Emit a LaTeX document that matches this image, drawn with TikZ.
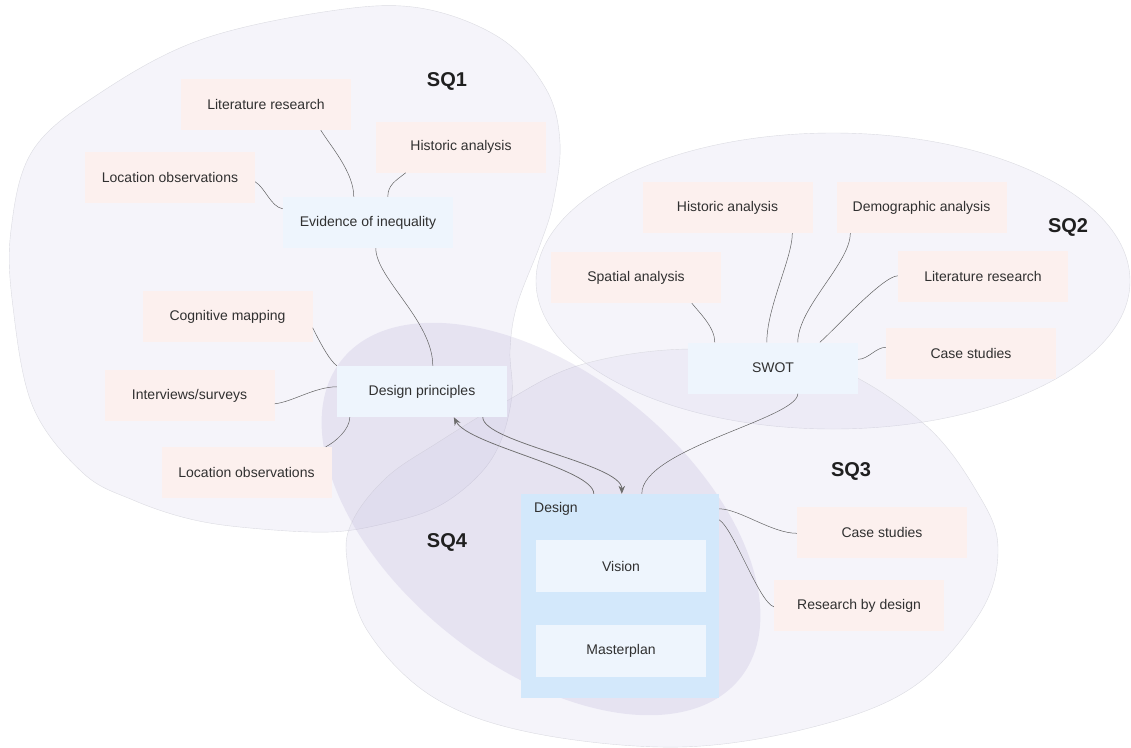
\documentclass[tikz,border=0pt]{standalone}
\usepackage{fontspec}
\setmainfont{Liberation Sans}
\usetikzlibrary{calc,arrows.meta}
\definecolor{pinkbox}{HTML}{FCF0EE}
\definecolor{bluebox}{HTML}{EEF5FD}
\definecolor{designbox}{HTML}{D3E8FB}
\definecolor{blobc}{RGB}{204,199,230}
\definecolor{sqfourc}{RGB}{185,176,214}
\definecolor{blobline}{HTML}{DBDBE1}
\definecolor{connc}{HTML}{616161}
\definecolor{arrowc}{HTML}{6E6E6E}
\definecolor{txtc}{HTML}{303030}
\begin{document}
\begin{tikzpicture}[x=1pt,y=-1pt,
  blob/.style={fill=blobc,fill opacity=0.2,draw=blobline,line width=0.4pt},
  sqfour/.style={fill=sqfourc,fill opacity=0.24,draw=none},
  box/.style={minimum width=170pt,minimum height=51pt,inner sep=0pt,text=txtc,font=\fontsize{14}{16}\selectfont},
  pbox/.style={box,fill=pinkbox},
  bbox/.style={box,fill=bluebox},
  conn/.style={draw=connc,line width=0.5pt},
  flow/.style={draw=arrowc,line width=0.75pt,-{Stealth[length=8pt,width=6.5pt,inset=2.5pt]}},
  sqlabel/.style={font=\bfseries\fontsize{20}{24}\selectfont,text=black!88}
]
\useasboundingbox (0,0) rectangle (1131,747);

% regions
\path[blob] plot[smooth cycle,tension=0.6] coordinates {
  (330,11) (420,8) (500,38) (546,89) (560,143) (553,203) (540,245) (517,305)
  (510,350) (512,395) (500,443) (477,477) (437,507) (387,523) (330,532)
  (250,528) (190,519) (133,500) (83,473) (33,407) (13,307) (11,230)
  (33,150) (100,93) (200,40)};
\path[blob] (833,281) ellipse [x radius=297,y radius=148];
\path[blob] plot[smooth cycle,tension=0.6] coordinates {
  (347,560) (353,520) (387,477) (437,443) (503,403) (580,365) (690,349)
  (820,362) (923,423) (980,497) (998,550) (980,613) (913,687) (813,727)
  (680,747) (533,733) (433,697) (367,630)};
\path[sqfour,rotate around={-38.6:(541,519)}] (541,519) ellipse [x radius=255,y radius=147];

% labels
\node[sqlabel] (sq1) at (447,81) {SQ1};
\node[sqlabel] (sq2) at (1068,227) {SQ2};
\node[sqlabel] (sq3) at (851,471) {SQ3};
\node[sqlabel] (sq4) at (447,542) {SQ4};

% SQ1 boxes
\node[pbox] (lita) at (266,104.5) {Literature research};
\node[pbox] (hista) at (461,147) {Historic analysis};
\node[pbox] (loca) at (170,177.5) {Location observations};
\node[bbox] (evid) at (368,222.5) {Evidence of inequality};
\node[pbox] (cogm) at (227.5,316.5) {Cognitive mapping};
\node[pbox] (intv) at (189.5,395.5) {Interviews/surveys};
\node[bbox] (dpri) at (422,391.5) {Design principles};
\node[pbox] (locb) at (246.5,472.5) {Location observations};

% SQ2 boxes
\node[pbox] (histb) at (727.5,207.5) {Historic analysis};
\node[pbox] (demo) at (921.5,207.5) {Demographic analysis};
\node[pbox] (spat) at (636,277.5) {Spatial analysis};
\node[pbox] (litb) at (983,276.5) {Literature research};
\node[pbox] (cases) at (971,353) {Case studies};
\node[bbox] (swot) at (773,368) {SWOT};

% design
\node[fill=designbox,minimum width=198pt,minimum height=204pt,inner sep=0pt] (design) at (620,596) {};
\node[anchor=west,inner sep=0pt,text=txtc,font=\fontsize{14}{16}\selectfont] (designlbl) at (534,509) {Design};
\node[bbox,minimum height=52pt] (vision) at (621,566) {Vision};
\node[bbox,minimum height=52pt] (master) at (621,651) {Masterplan};

% SQ3 boxes
\node[pbox] (casec) at (882,532) {Case studies};
\node[pbox] (rbd) at (859,605.5) {Research by design};

% connectors SQ1
\draw[conn] ($(lita.south west)+(140,0)$) .. controls +(9,15) and +(0,-25) .. ($(evid.north west)+(71,0)$);
\draw[conn] ($(hista.south west)+(30,0)$) .. controls +(-10,8) and +(0,-12) .. ($(evid.north west)+(105,0)$);
\draw[conn] ($(loca.north east)+(0,30)$) .. controls +(10,6) and +(-12,-2) .. ($(evid.north west)+(0,12)$);
\draw[conn] ($(evid.south west)+(93,0)$) .. controls +(0,30) and +(0,-45) .. ($(dpri.north west)+(96,0)$);
\draw[conn] ($(cogm.north east)+(0,37)$) .. controls +(6,12) and +(-8,-6) .. (dpri.north west);
\draw[conn] ($(intv.north east)+(0,34)$) .. controls +(18,-2) and +(-22,0) .. ($(dpri.north west)+(0,21)$);
\draw[conn] ($(locb.north east)+(-6,0)$) .. controls +(10,-5) and +(0,12) .. ($(dpri.south west)+(13,0)$);

% flows
\draw[flow] ($(dpri.south west)+(146,0)$) .. controls +(0,25) and +(0,-30) .. ($(design.north west)+(101,0)$);
\draw[flow] ($(design.north west)+(73,0)$) .. controls +(0,-25) and +(15,28) .. ($(dpri.south west)+(117,0)$);

% connectors SQ2
\draw[conn] ($(spat.south west)+(141,0)$) .. controls +(8,10) and +(0,-15) .. ($(swot.north west)+(27,0)$);
\draw[conn] ($(histb.south west)+(150,0)$) .. controls +(0,25) and +(0,-35) .. ($(swot.north west)+(79,0)$);
\draw[conn] ($(demo.south west)+(14,0)$) .. controls +(0,30) and +(0,-35) .. ($(swot.north west)+(110,0)$);
\draw[conn] ($(litb.north west)+(0,25)$) .. controls +(-15,0) and +(12,-10) .. ($(swot.north west)+(132,0)$);
\draw[conn] ($(cases.north west)+(0,20)$) .. controls +(-10,0) and +(10,0) .. ($(swot.north east)+(0,17)$);
\draw[conn] ($(swot.south west)+(110,0)$) .. controls +(0,25) and +(0,-45) .. ($(design.north west)+(121,0)$);

% connectors SQ3
\draw[conn] ($(design.north east)+(0,15)$) .. controls +(20,0) and +(-25,0) .. ($(casec.north west)+(0,27)$);
\draw[conn] ($(design.north east)+(0,26)$) .. controls +(15,10) and +(-15,-5) .. ($(rbd.north west)+(0,27)$);
\end{tikzpicture}
\end{document}
